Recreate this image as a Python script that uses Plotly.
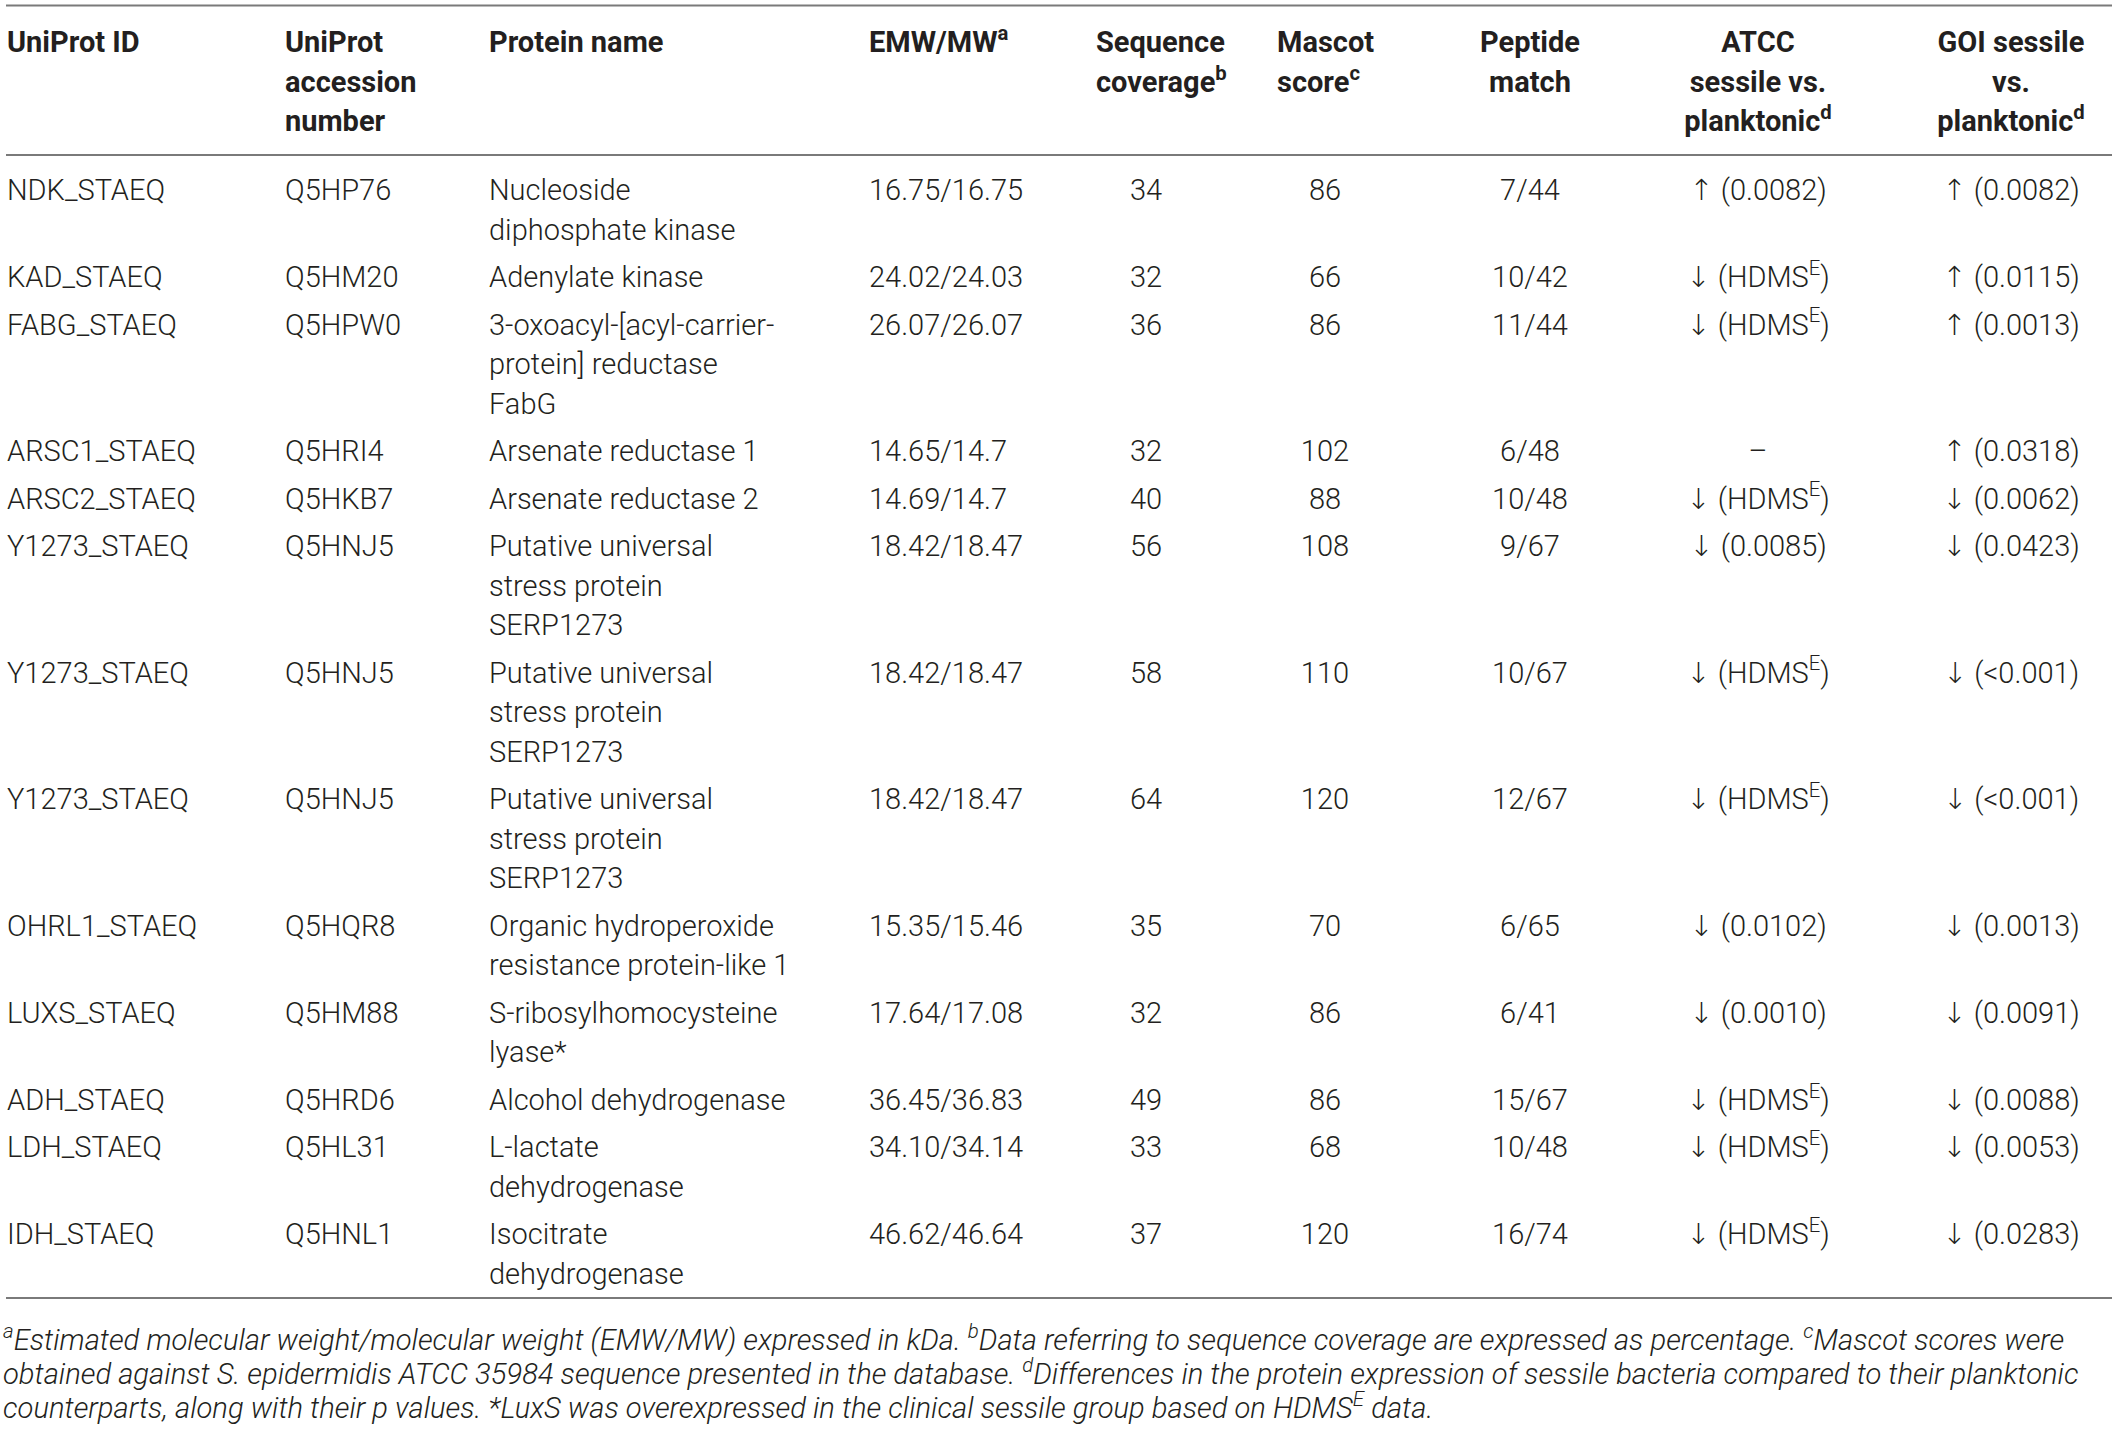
import plotly.graph_objects as go

W, H = 2118, 1436

# ---- table content ----
headers = [
    "UniProt ID",
    "UniProt<br>accession<br>number",
    "Protein name",
    "EMW/MW<sup>a</sup>",
    "Sequence<br>coverage<sup>b</sup>",
    "Mascot<br>score<sup>c</sup>",
    "Peptide<br>match",
    "ATCC<br>sessile vs.<br>planktonic<sup>d</sup>",
    "GOI sessile<br>vs.<br>planktonic<sup>d</sup>",
]

uniprot_ids = [
    "NDK_STAEQ", "KAD_STAEQ", "FABG_STAEQ", "ARSC1_STAEQ", "ARSC2_STAEQ",
    "Y1273_STAEQ", "Y1273_STAEQ", "Y1273_STAEQ", "OHRL1_STAEQ", "LUXS_STAEQ",
    "ADH_STAEQ", "LDH_STAEQ", "IDH_STAEQ",
]
accessions = [
    "Q5HP76", "Q5HM20", "Q5HPW0", "Q5HRI4", "Q5HKB7", "Q5HNJ5", "Q5HNJ5",
    "Q5HNJ5", "Q5HQR8", "Q5HM88", "Q5HRD6", "Q5HL31", "Q5HNL1",
]
protein_names = [
    "Nucleoside<br>diphosphate kinase",
    "Adenylate kinase",
    "3-oxoacyl-[acyl-carrier-<br>protein] reductase<br>FabG",
    "Arsenate reductase 1",
    "Arsenate reductase 2",
    "Putative universal<br>stress protein<br>SERP1273",
    "Putative universal<br>stress protein<br>SERP1273",
    "Putative universal<br>stress protein<br>SERP1273",
    "Organic hydroperoxide<br>resistance protein-like 1",
    "S-ribosylhomocysteine<br>lyase*",
    "Alcohol dehydrogenase",
    "L-lactate<br>dehydrogenase",
    "Isocitrate<br>dehydrogenase",
]
emw_mw = [
    "16.75/16.75", "24.02/24.03", "26.07/26.07", "14.65/14.7", "14.69/14.7",
    "18.42/18.47", "18.42/18.47", "18.42/18.47", "15.35/15.46", "17.64/17.08",
    "36.45/36.83", "34.10/34.14", "46.62/46.64",
]
coverage = [34, 32, 36, 32, 40, 56, 58, 64, 35, 32, 49, 33, 37]
mascot = [86, 66, 86, 102, 88, 108, 110, 120, 70, 86, 86, 68, 120]
peptide = [
    "7/44", "10/42", "11/44", "6/48", "10/48", "9/67", "10/67", "12/67",
    "6/65", "6/41", "15/67", "10/48", "16/74",
]
HD = "↓ (HDMS<sup>E</sup>)"
atcc = [
    "↑ (0.0082)", HD, HD, "–", HD, "↓ (0.0085)", HD, HD,
    "↓ (0.0102)", "↓ (0.0010)", HD, HD, HD,
]
goi = [
    "↑ (0.0082)", "↑ (0.0115)", "↑ (0.0013)", "↑ (0.0318)", "↓ (0.0062)",
    "↓ (0.0423)", "↓ (&lt;0.001)", "↓ (&lt;0.001)", "↓ (0.0013)",
    "↓ (0.0091)", "↓ (0.0088)", "↓ (0.0053)", "↓ (0.0283)",
]

footnote_lines = [
    "<sup>a</sup>Estimated molecular weight/molecular weight (EMW/MW) expressed in kDa. "
    "<sup>b</sup>Data referring to sequence coverage are expressed as percentage. "
    "<sup>c</sup>Mascot scores were",
    "obtained against S. epidermidis ATCC 35984 sequence presented in the database. "
    "<sup>d</sup>Differences in the protein expression of sessile bacteria compared to their planktonic",
    "counterparts, along with their p values. *LuxS was overexpressed in the clinical sessile group "
    "based on HDMS<sup>E</sup> data.",
]

columns = [uniprot_ids, accessions, protein_names, emw_mw, coverage, mascot,
           peptide, atcc, goi]

# ---- layout geometry ----
header_x = [7, 285, 489, 869, 1096, 1277, 1530, 1758, 2011]
data_x = [7, 285, 489, 869, 1146, 1325, 1530, 1758, 2011]
header_pos = ["middle right"] * 6 + ["middle center"] * 3
data_pos = ["middle right"] * 4 + ["middle center"] * 5

LINE = 39.6      # line pitch inside a cell
ROW_GAP = 47.4   # last line of a row to first line of the next
HEADER_Y0 = 45
DATA_Y0 = 193
TEXT_COLOR = "#231f20"
RULE_COLOR = "#7a7a7a"
FONT = "Roboto"
ARROW = '<span style="font-family:DejaVu Sans;font-weight:200">{}</span>'

fig = go.Figure()


def styled(text):
    return text.replace("↑", ARROW.format("↑")).replace("↓", ARROW.format("↓"))


def add_cells(xs, ys, texts, pos, weight, size=29, italic=False):
    fig.add_trace(go.Scatter(
        x=xs, y=ys, text=[styled(t) for t in texts], mode="text", textposition=pos,
        textfont=dict(family=FONT, size=size, color=TEXT_COLOR, weight=weight,
                      style="italic" if italic else "normal"),
        hoverinfo="skip", showlegend=False,
    ))


# header cells, one text item per line
for hx, hpos, htext in zip(header_x, header_pos, headers):
    parts = htext.split("<br>")
    add_cells([hx] * len(parts), [HEADER_Y0 + i * LINE for i in range(len(parts))],
              parts, hpos, 700)

# row start positions derived from the number of lines in each row
n_lines = [len(p.split("<br>")) for p in protein_names]
row_y = []
y = DATA_Y0
for n in n_lines:
    row_y.append(y)
    y += (n - 1) * LINE + ROW_GAP

for cx, cpos, values in zip(data_x, data_pos, columns):
    xs, ys, ts = [], [], []
    for ry, v in zip(row_y, values):
        for i, part in enumerate(str(v).split("<br>")):
            xs.append(cx)
            ys.append(ry + i * LINE)
            ts.append(part)
    add_cells(xs, ys, ts, cpos, 300)

# footnote
foot_y = [1343, 1377, 1411]
add_cells([3] * len(footnote_lines), foot_y, footnote_lines, "middle right", 300,
          size=29.2, italic=True)

# horizontal rules
for ry in [5.5, 155, 1298]:
    fig.add_shape(type="line", x0=6, x1=2112, y0=ry, y1=ry, xref="x", yref="y",
                  line=dict(color=RULE_COLOR, width=2))

fig.update_layout(
    width=W, height=H,
    margin=dict(l=0, r=0, t=0, b=0),
    paper_bgcolor="white", plot_bgcolor="white",
    xaxis=dict(range=[0, W], visible=False, fixedrange=True),
    yaxis=dict(range=[H, 0], visible=False, fixedrange=True),
)

fig.write_html("out.html", config={"displayModeBar": False},
               post_script="document.body.style.margin='0';"
               "document.body.style.overflow='hidden';")
